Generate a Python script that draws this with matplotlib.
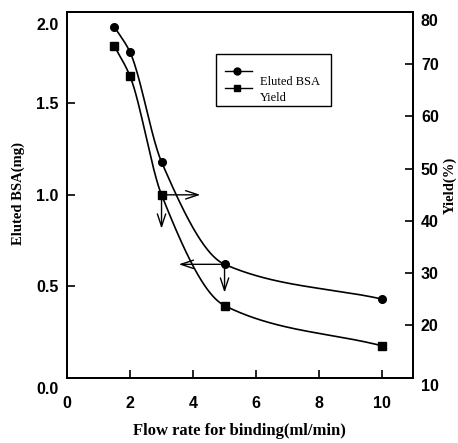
import numpy as np
import matplotlib
matplotlib.use('Agg')
import matplotlib.pyplot as plt
from matplotlib.patches import Rectangle
from matplotlib.lines import Line2D
import matplotlib.transforms as mtrans

# data
flow = [1.5, 2.0, 3.0, 5.0, 10.0]
eluted_bsa = [1.92, 1.78, 1.18, 0.62, 0.43]   # mg, left axis
yield_pct = [73.5, 67.7, 45.0, 23.8, 16.1]    # %, right axis

xticks = [0, 2, 4, 6, 8, 10]
lticks = [0.0, 0.5, 1.0, 1.5, 2.0]
rticks = [10, 20, 30, 40, 50, 60, 70, 80]


def pchip(x, y, xs):
  # monotone cubic through the points, just for the smooth drawn line
  x = np.asarray(x, float); y = np.asarray(y, float)
  h = np.diff(x); d = np.diff(y) / h
  m = np.zeros_like(y)
  for k in range(1, len(x) - 1):
    if d[k-1] * d[k] > 0:
      w1 = 2*h[k] + h[k-1]; w2 = h[k] + 2*h[k-1]
      m[k] = (w1 + w2) / (w1/d[k-1] + w2/d[k])
  m[0] = d[0]; m[-1] = d[-1]
  idx = np.clip(np.searchsorted(x, xs) - 1, 0, len(x) - 2)
  t = (xs - x[idx]) / h[idx]
  h00 = 2*t**3 - 3*t**2 + 1; h10 = t**3 - 2*t**2 + t
  h01 = -2*t**3 + 3*t**2; h11 = t**3 - t**2
  return h00*y[idx] + h10*h[idx]*m[idx] + h01*y[idx+1] + h11*h[idx]*m[idx+1]


serif = ['Liberation Serif', 'DejaVu Serif']
sans = ['Liberation Sans', 'DejaVu Sans']

fig = plt.figure(figsize=(4.58, 4.43), dpi=100)
ax = fig.add_axes([0.1463, 0.1474, 0.7547, 0.8256])
ax2 = ax.twinx()

xs = np.linspace(flow[0], flow[-1], 300)
ax.plot(xs, pchip(flow, eluted_bsa, xs), color='black', lw=1.2)
ax.plot(flow, eluted_bsa, 'o', color='black', ms=5.5)
ax2.plot(xs, pchip(flow, yield_pct, xs), color='black', lw=1.2)
ax2.plot(flow, yield_pct, 's', color='black', ms=5.5)

ax.set_xlim(0, 10.97)
ax.set_ylim(0, 2.0)
ax2.set_ylim(10, 80)
ax.set_xticks(xticks)
ax.set_yticks(lticks)
ax2.set_yticks(rticks)
ax.set_yticklabels(['%.1f' % v for v in lticks])

for a in (ax, ax2):
  a.tick_params(direction='in', length=6, width=1.2, pad=6)
  for s in a.spines.values():
    s.set_linewidth(1.3)
  for lab in a.get_xticklabels() + a.get_yticklabels():
    lab.set_fontfamily(sans)
    lab.set_fontweight('bold')
    lab.set_fontsize(11.5)
ax.tick_params(axis='x', pad=13)

# end labels sit a little inside in the original
def shift(lab, dy):
  lab.set_transform(lab.get_transform() + mtrans.ScaledTranslation(0, dy, fig.dpi_scale_trans))
shift(ax.get_yticklabels()[-1], -0.12)
shift(ax.get_yticklabels()[0], -0.10)
shift(ax2.get_yticklabels()[-1], -0.08)
shift(ax2.get_yticklabels()[0], -0.07)

ax.set_xlabel('Flow rate for binding(ml/min)', fontfamily=serif, fontweight='bold', fontsize=12, labelpad=9)
ax.set_ylabel('Eluted BSA(mg)', fontfamily=serif, fontweight='bold', fontsize=10.5)
ax2.set_ylabel('Yield(%)', fontfamily=serif, fontweight='bold', fontsize=10.5, rotation=90)
ax.yaxis.set_label_coords(-0.121, 0.505)
ax2.yaxis.set_label_coords(1.088, 0.527)

# arrows pointing to the axis each curve belongs to
arw = dict(arrowstyle='->,head_length=0.9,head_width=0.3', color='black', lw=1.0)
ax.annotate('', xy=(4.32, 1.0), xytext=(flow[2], 1.0), arrowprops=arw)
ax.annotate('', xy=(flow[2], 0.80), xytext=(flow[2], 1.0), arrowprops=arw)
ax.annotate('', xy=(3.46, eluted_bsa[3]), xytext=(flow[3], eluted_bsa[3]), arrowprops=arw)
ax.annotate('', xy=(flow[3], 0.45), xytext=(flow[3], eluted_bsa[3]), arrowprops=arw)

# hand-drawn legend box
ax2.add_patch(Rectangle((0.431, 0.743), 0.333, 0.142, transform=ax2.transAxes,
                        fill=False, edgecolor='black', lw=1.0))
for yy, mk in [(0.839, 'o'), (0.792, 's')]:
  ax2.add_line(Line2D([0.457, 0.535], [yy, yy], transform=ax2.transAxes, color='black', lw=1.0))
  ax2.add_line(Line2D([0.493], [yy], transform=ax2.transAxes, color='black', marker=mk, ms=5))
ax2.text(0.558, 0.809, 'Eluted BSA', transform=ax2.transAxes, fontfamily=serif, fontsize=9, va='center')
ax2.text(0.558, 0.764, 'Yield', transform=ax2.transAxes, fontfamily=serif, fontsize=9, va='center')

plt.savefig('out.png', dpi=100)
